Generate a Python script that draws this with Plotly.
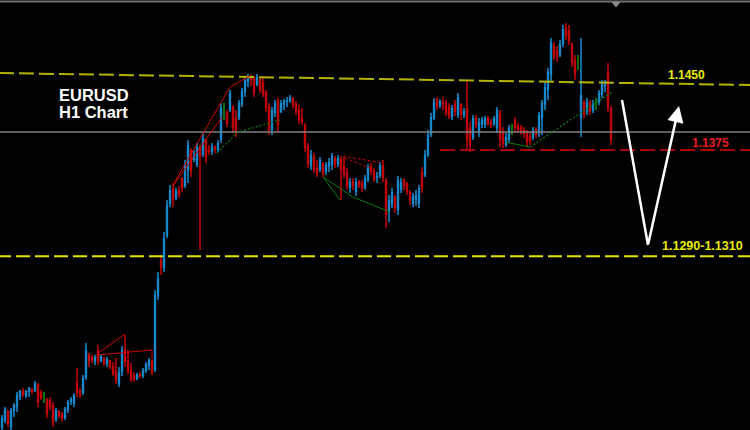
import plotly.graph_objects as go

# EURUSD H1 bars, oldest first
OPEN = [1.11526, 1.11582, 1.11662, 1.11534, 1.11662, 1.11694, 1.11774, 1.11830, 1.11782, 1.11814,
        1.11838, 1.11822, 1.11878, 1.11814, 1.11782, 1.11758, 1.11750, 1.11710, 1.11590, 1.11662,
        1.11646, 1.11606, 1.11670, 1.11734, 1.11718, 1.11894, 1.11830, 1.11806, 1.11926, 1.12118,
        1.12094, 1.12054, 1.12150, 1.12062, 1.12086, 1.12038, 1.12070, 1.12022, 1.11990, 1.11878,
        1.11974, 1.12166, 1.12070, 1.11990, 1.11950, 1.11918, 1.11958, 1.11942, 1.11982, 1.12022,
        1.12062, 1.11990, 1.12582, 1.12870, 1.12806, 1.13062, 1.13318, 1.13446, 1.13366, 1.13430,
        1.13526, 1.13462, 1.13590, 1.13750, 1.13670, 1.13630, 1.13766, 1.13710, 1.13830, 1.13750,
        1.13734, 1.13774, 1.13750, 1.13830, 1.14070, 1.14054, 1.14070, 1.14094, 1.14006, 1.14006,
        1.14118, 1.14214, 1.14294, 1.14326, 1.14326, 1.14270, 1.14318, 1.14294, 1.14214, 1.14102,
        1.13910, 1.14046, 1.14142, 1.14054, 1.14110, 1.14134, 1.14142, 1.14166, 1.14118, 1.14070,
        1.14006, 1.13950, 1.13782, 1.13622, 1.13702, 1.13606, 1.13590, 1.13646, 1.13574, 1.13614,
        1.13630, 1.13686, 1.13638, 1.13678, 1.13622, 1.13574, 1.13446, 1.13502, 1.13414, 1.13502,
        1.13486, 1.13446, 1.13510, 1.13622, 1.13590, 1.13526, 1.13542, 1.13630, 1.13510, 1.13254,
        1.13318, 1.13382, 1.13270, 1.13430, 1.13510, 1.13478, 1.13414, 1.13318, 1.13350, 1.13318,
        1.13574, 1.13550, 1.13710, 1.13870, 1.14006, 1.14158, 1.14102, 1.14134, 1.14126, 1.14102,
        1.14014, 1.14126, 1.14030, 1.14118, 1.14030, 1.14086, 1.13926, 1.13846, 1.14006, 1.13894,
        1.13958, 1.13950, 1.14006, 1.13974, 1.13958, 1.13926, 1.14046, 1.13894, 1.13790, 1.13830,
        1.13910, 1.13990, 1.13950, 1.13934, 1.13910, 1.13886, 1.13862, 1.13846, 1.13918, 1.13878,
        1.14006, 1.14110, 1.14230, 1.14350, 1.14590, 1.14550, 1.14510, 1.14598, 1.14734, 1.14710,
        1.14598, 1.14470, 1.14454, 1.14006, 1.14134, 1.14054, 1.14134, 1.14062, 1.14118, 1.14134,
        1.14190, 1.14262, 1.14374, 1.14086]
HIGH = [1.11630, 1.11694, 1.11670, 1.11686, 1.11726, 1.11814, 1.11830, 1.11846, 1.11830, 1.11854,
        1.11846, 1.11902, 1.11886, 1.11830, 1.11814, 1.11766, 1.11774, 1.11734, 1.11686, 1.11670,
        1.11654, 1.11694, 1.11750, 1.11774, 1.11806, 1.12006, 1.11846, 1.11950, 1.12206, 1.12126,
        1.12110, 1.12110, 1.12190, 1.12110, 1.12094, 1.12094, 1.12070, 1.12054, 1.12086, 1.12014,
        1.12182, 1.12270, 1.12150, 1.12046, 1.11974, 1.11966, 1.11974, 1.12006, 1.12054, 1.12086,
        1.12070, 1.12630, 1.12774, 1.12902, 1.13094, 1.13350, 1.13470, 1.13486, 1.13446, 1.13462,
        1.13534, 1.13670, 1.13830, 1.13766, 1.13750, 1.13806, 1.13790, 1.13886, 1.13846, 1.13790,
        1.13806, 1.13790, 1.13830, 1.14126, 1.14126, 1.14070, 1.14230, 1.14110, 1.14070, 1.14150,
        1.14246, 1.14334, 1.14358, 1.14350, 1.14342, 1.14358, 1.14326, 1.14334, 1.14230, 1.14126,
        1.14094, 1.14150, 1.14166, 1.14150, 1.14158, 1.14174, 1.14190, 1.14174, 1.14142, 1.14110,
        1.14086, 1.13966, 1.13806, 1.13750, 1.13726, 1.13670, 1.13694, 1.13654, 1.13654, 1.13686,
        1.13726, 1.13702, 1.13710, 1.13702, 1.13694, 1.13606, 1.13526, 1.13526, 1.13526, 1.13510,
        1.13510, 1.13550, 1.13638, 1.13646, 1.13606, 1.13574, 1.13654, 1.13670, 1.13526, 1.13390,
        1.13446, 1.13390, 1.13542, 1.13526, 1.13526, 1.13494, 1.13430, 1.13406, 1.13430, 1.13470,
        1.13614, 1.13750, 1.13910, 1.14046, 1.14166, 1.14174, 1.14158, 1.14174, 1.14150, 1.14126,
        1.14110, 1.14150, 1.14206, 1.14126, 1.14086, 1.14310, 1.13974, 1.14030, 1.14030, 1.14006,
        1.14014, 1.14022, 1.14022, 1.13998, 1.14022, 1.14094, 1.14070, 1.13934, 1.13886, 1.13950,
        1.13958, 1.14014, 1.13966, 1.13950, 1.13934, 1.13910, 1.13894, 1.13934, 1.13934, 1.14054,
        1.14150, 1.14294, 1.14406, 1.14646, 1.14614, 1.14582, 1.14630, 1.14750, 1.14766, 1.14750,
        1.14614, 1.14510, 1.14510, 1.14646, 1.14150, 1.14166, 1.14150, 1.14150, 1.14166, 1.14230,
        1.14310, 1.14310, 1.14446, 1.14102]
LOW = [1.11510, 1.11566, 1.11534, 1.11510, 1.11614, 1.11654, 1.11750, 1.11774, 1.11766, 1.11774,
       1.11798, 1.11814, 1.11694, 1.11750, 1.11726, 1.11606, 1.11670, 1.11534, 1.11574, 1.11606,
       1.11574, 1.11590, 1.11646, 1.11710, 1.11694, 1.11774, 1.11766, 1.11790, 1.11910, 1.12014,
       1.12046, 1.12030, 1.12030, 1.12054, 1.12022, 1.12014, 1.11998, 1.11942, 1.11878, 1.11854,
       1.11942, 1.12014, 1.11958, 1.11894, 1.11894, 1.11910, 1.11926, 1.11926, 1.11966, 1.11990,
       1.11950, 1.11974, 1.12550, 1.12750, 1.12774, 1.13046, 1.13294, 1.13294, 1.13350, 1.13366,
       1.13414, 1.13446, 1.13486, 1.13534, 1.13654, 1.13614, 1.12950, 1.13694, 1.13646, 1.13710,
       1.13710, 1.13726, 1.13734, 1.13806, 1.13990, 1.13934, 1.14054, 1.13886, 1.13854, 1.13990,
       1.14094, 1.14174, 1.14254, 1.14262, 1.14174, 1.14262, 1.14206, 1.14174, 1.14054, 1.13870,
       1.13870, 1.14014, 1.13894, 1.14046, 1.14070, 1.14094, 1.14126, 1.14086, 1.14030, 1.13958,
       1.13950, 1.13734, 1.13606, 1.13590, 1.13566, 1.13534, 1.13574, 1.13534, 1.13550, 1.13574,
       1.13590, 1.13606, 1.13614, 1.13350, 1.13526, 1.13430, 1.13406, 1.13430, 1.13382, 1.13446,
       1.13414, 1.13430, 1.13494, 1.13550, 1.13494, 1.13486, 1.13526, 1.13494, 1.13126, 1.13174,
       1.13286, 1.13246, 1.13230, 1.13406, 1.13430, 1.13390, 1.13310, 1.13294, 1.13302, 1.13286,
       1.13406, 1.13534, 1.13694, 1.13854, 1.13990, 1.14070, 1.14086, 1.14070, 1.14022, 1.13998,
       1.13990, 1.14022, 1.14006, 1.13990, 1.14006, 1.13750, 1.13734, 1.13830, 1.13926, 1.13854,
       1.13926, 1.13926, 1.13942, 1.13926, 1.13942, 1.13886, 1.13774, 1.13766, 1.13774, 1.13806,
       1.13870, 1.13894, 1.13886, 1.13870, 1.13846, 1.13774, 1.13790, 1.13830, 1.13846, 1.13854,
       1.13870, 1.14070, 1.14150, 1.14294, 1.14470, 1.14454, 1.14494, 1.14574, 1.14630, 1.14590,
       1.14414, 1.14310, 1.14390, 1.13854, 1.14006, 1.14030, 1.14030, 1.14046, 1.14070, 1.14110,
       1.14166, 1.14214, 1.14054, 1.13790]
CLOSE = [1.11606, 1.11678, 1.11558, 1.11670, 1.11710, 1.11790, 1.11822, 1.11790, 1.11822, 1.11846,
         1.11814, 1.11886, 1.11726, 1.11766, 1.11782, 1.11638, 1.11694, 1.11574, 1.11670, 1.11622,
         1.11598, 1.11678, 1.11734, 1.11758, 1.11790, 1.11806, 1.11782, 1.11926, 1.12150, 1.12054,
         1.12070, 1.12094, 1.12054, 1.12102, 1.12038, 1.12078, 1.12014, 1.11958, 1.11902, 1.11974,
         1.12150, 1.12054, 1.11982, 1.11910, 1.11910, 1.11958, 1.11934, 1.11990, 1.12038, 1.12070,
         1.11974, 1.12590, 1.12726, 1.12806, 1.13046, 1.13310, 1.13430, 1.13350, 1.13422, 1.13390,
         1.13446, 1.13630, 1.13790, 1.13574, 1.13710, 1.13774, 1.13694, 1.13846, 1.13686, 1.13734,
         1.13782, 1.13750, 1.13806, 1.14086, 1.14070, 1.13958, 1.14206, 1.13926, 1.13886, 1.14126,
         1.14222, 1.14310, 1.14334, 1.14310, 1.14206, 1.14334, 1.14230, 1.14190, 1.14086, 1.13910,
         1.14070, 1.14126, 1.13950, 1.14126, 1.14142, 1.14150, 1.14174, 1.14110, 1.14054, 1.13990,
         1.13974, 1.13766, 1.13638, 1.13710, 1.13590, 1.13558, 1.13670, 1.13558, 1.13630, 1.13654,
         1.13702, 1.13630, 1.13686, 1.13590, 1.13550, 1.13462, 1.13494, 1.13462, 1.13494, 1.13462,
         1.13438, 1.13526, 1.13606, 1.13574, 1.13510, 1.13542, 1.13630, 1.13526, 1.13230, 1.13350,
         1.13414, 1.13286, 1.13510, 1.13494, 1.13462, 1.13414, 1.13350, 1.13382, 1.13390, 1.13446,
         1.13446, 1.13710, 1.13870, 1.14014, 1.14134, 1.14094, 1.14142, 1.14118, 1.14046, 1.14022,
         1.14086, 1.14054, 1.14174, 1.14030, 1.14062, 1.13830, 1.13782, 1.14006, 1.13950, 1.13974,
         1.13990, 1.14006, 1.13958, 1.13950, 1.14006, 1.14070, 1.13830, 1.13798, 1.13854, 1.13926,
         1.13910, 1.13926, 1.13910, 1.13894, 1.13878, 1.13806, 1.13822, 1.13910, 1.13870, 1.14030,
         1.14126, 1.14254, 1.14374, 1.14614, 1.14502, 1.14486, 1.14598, 1.14718, 1.14662, 1.14614,
         1.14446, 1.14350, 1.14454, 1.14190, 1.14038, 1.14134, 1.14054, 1.14118, 1.14118, 1.14206,
         1.14278, 1.14278, 1.14086, 1.13830]

# Current bid and the marked levels
BID = 1.13894
LEVEL_RESIST = 1.1450
LEVEL_MID = 1.1375
LEVEL_MID_FROM = 146            # bar where the 1.1375 line starts
ZONE_LOW, ZONE_HIGH = 1.1290, 1.1310

# Hand-drawn trendlines: (bar index list, price list)
RESIST_LINE = ([-1, 250], [1.14366, 1.14270])
RED_LINES = [([31.67, 41.0], [1.12118, 1.12278]),
             ([31.67, 50.0, 50.0], [1.12110, 1.12150, 1.12006]),
             ([57.0, 76.0, 82.67], [1.13470, 1.14254, 1.14342]),
             ([57.0, 73.33], [1.13462, 1.14014])]
RED_DASHED = [([113.67, 126.67], [1.13702, 1.13646]),
              ([114.33, 122.67], [1.13686, 1.13606])]
GREEN_SOLID = [([107.0, 112.67], [1.13534, 1.13350]),
               ([107.0, 117.0, 129.33], [1.13534, 1.13374, 1.13254]),
               ([167.67, 176.0], [1.13814, 1.13774])]
GREEN_DOTTED = [([71.67, 78.67, 92.67], [1.13726, 1.13894, 1.13990]),
                ([176.0, 203.33], [1.13774, 1.14214])]

# Projected path: down into the zone, then back up
PATH_X = [206.67, 215.33, 225.67]
PATH_Y = [1.14150, 1.12990, 1.14102]

N = len(OPEN)
idx = list(range(N))

fig = go.Figure()

groups = [
    ("up", "#1b93d8", "#1786c8", lambda i: CLOSE[i] > OPEN[i]),
    ("down", "#de1212", "#bb0000", lambda i: CLOSE[i] < OPEN[i]),
    ("flat", "#12a012", "#0e8a0e", lambda i: CLOSE[i] == OPEN[i]),
]
for name, body_col, wick_col, cond in groups:
    sel = [i for i in idx if cond(i)]
    wx, wy = [], []
    for i in sel:
        wx += [i, i, None]
        wy += [LOW[i], HIGH[i], None]
    fig.add_trace(go.Scatter(x=wx, y=wy, mode="lines",
                             line=dict(color=wick_col, width=1.6),
                             hoverinfo="skip", name=name))
    fig.add_trace(go.Bar(x=sel,
                         base=[min(OPEN[i], CLOSE[i]) for i in sel],
                         y=[abs(CLOSE[i] - OPEN[i]) for i in sel],
                         width=0.78, marker=dict(color=body_col, line_width=0),
                         hoverinfo="skip", name=name + " body"))

x_lo, x_hi = -2 / 3, 748 / 3

# Level lines
fig.add_trace(go.Scatter(x=[x_lo, x_hi], y=[BID, BID], mode="lines",
                         line=dict(color="#808080", width=1.5), hoverinfo="skip"))
fig.add_trace(go.Scatter(x=RESIST_LINE[0], y=RESIST_LINE[1], mode="lines",
                         line=dict(color="#b3b300", width=2, dash="15px,5px"),
                         hoverinfo="skip"))
fig.add_trace(go.Scatter(x=[LEVEL_MID_FROM, x_hi + 2], y=[LEVEL_MID, LEVEL_MID], mode="lines",
                         line=dict(color="#a80000", width=2, dash="15px,5px"),
                         hoverinfo="skip"))
fig.add_trace(go.Scatter(x=[x_lo - 1, x_hi + 2], y=[ZONE_LOW, ZONE_LOW], mode="lines",
                         line=dict(color="#e4e400", width=2, dash="14px,5px"),
                         hoverinfo="skip"))

for xs, ys in RED_LINES:
    fig.add_trace(go.Scatter(x=xs, y=ys, mode="lines",
                             line=dict(color="#d00000", width=1), hoverinfo="skip"))
for xs, ys in RED_DASHED:
    fig.add_trace(go.Scatter(x=xs, y=ys, mode="lines",
                             line=dict(color="#d00000", width=1, dash="3px,2px"),
                             hoverinfo="skip"))
for xs, ys in GREEN_SOLID:
    fig.add_trace(go.Scatter(x=xs, y=ys, mode="lines",
                             line=dict(color="#0c7a0c", width=1), hoverinfo="skip"))
for xs, ys in GREEN_DOTTED:
    fig.add_trace(go.Scatter(x=xs, y=ys, mode="lines",
                             line=dict(color="#0c7a0c", width=1.3, dash="2px,2px"),
                             hoverinfo="skip"))

# Projection arrow
fig.add_trace(go.Scatter(x=PATH_X[:2], y=PATH_Y[:2], mode="lines",
                         line=dict(color="white", width=2.5), hoverinfo="skip"))
fig.add_annotation(x=PATH_X[2], y=PATH_Y[2], ax=PATH_X[1], ay=PATH_Y[1],
                   xref="x", yref="y", axref="x", ayref="y", text="",
                   showarrow=True, arrowhead=2, arrowsize=1.3, arrowwidth=2.5,
                   arrowcolor="white", standoff=0, startstandoff=0)

title_font = dict(family="Liberation Sans, Arial, sans-serif", size=16.5,
                  color="white", weight="bold")
fig.add_annotation(text="EURUSD", xref="paper", yref="paper", x=57 / 750, y=1 - 94.5 / 430,
                   xanchor="left", yanchor="middle", showarrow=False, font=title_font)
fig.add_annotation(text="H1 Chart", xref="paper", yref="paper", x=57 / 750, y=1 - 112 / 430,
                   xanchor="left", yanchor="middle", showarrow=False, font=title_font)

label_font = dict(family="Liberation Sans, Arial, sans-serif", size=12, weight="bold")
fig.add_annotation(text=f"{LEVEL_RESIST:.4f}", xref="paper", yref="paper",
                   x=686 / 750, y=1 - 75 / 430, xanchor="center", yanchor="middle",
                   showarrow=False, font=dict(label_font, color="#ecec00"))
fig.add_annotation(text=f"{LEVEL_MID:.4f}", xref="paper", yref="y",
                   x=710 / 750, y=LEVEL_MID, yshift=7, xanchor="center", yanchor="middle",
                   showarrow=False, font=dict(label_font, color="#ea1c1c"))
fig.add_annotation(text=f"{ZONE_LOW:.4f}-{ZONE_HIGH:.4f}", xref="paper", yref="y",
                   x=702 / 750, y=ZONE_LOW, yshift=10, xanchor="center", yanchor="middle",
                   showarrow=False,
                   font=dict(label_font, size=12.5, color="#ecec00"))

# Top frame and chart-shift marker
fig.add_shape(type="line", xref="paper", yref="paper", x0=0, x1=1,
              y0=1 - 1.5 / 430, y1=1 - 1.5 / 430, line=dict(color="#6e6e6e", width=2))
fig.add_shape(type="path", xref="paper", yref="paper",
              path=f"M {611.5/750},{1-2/430} L {620.5/750},{1-2/430} L {616/750},{1-7.5/430} Z",
              fillcolor="#8a8a8a", line=dict(width=0))

fig.update_layout(
    width=750, height=430,
    margin=dict(l=0, r=0, t=0, b=0),
    paper_bgcolor="black", plot_bgcolor="black",
    showlegend=False, barmode="overlay",
    xaxis=dict(range=[x_lo, x_hi], visible=False, fixedrange=True),
    yaxis=dict(range=[1.1495 - 0.00008 * 430, 1.1495], visible=False, fixedrange=True),
)

fig.write_html("out.html")
